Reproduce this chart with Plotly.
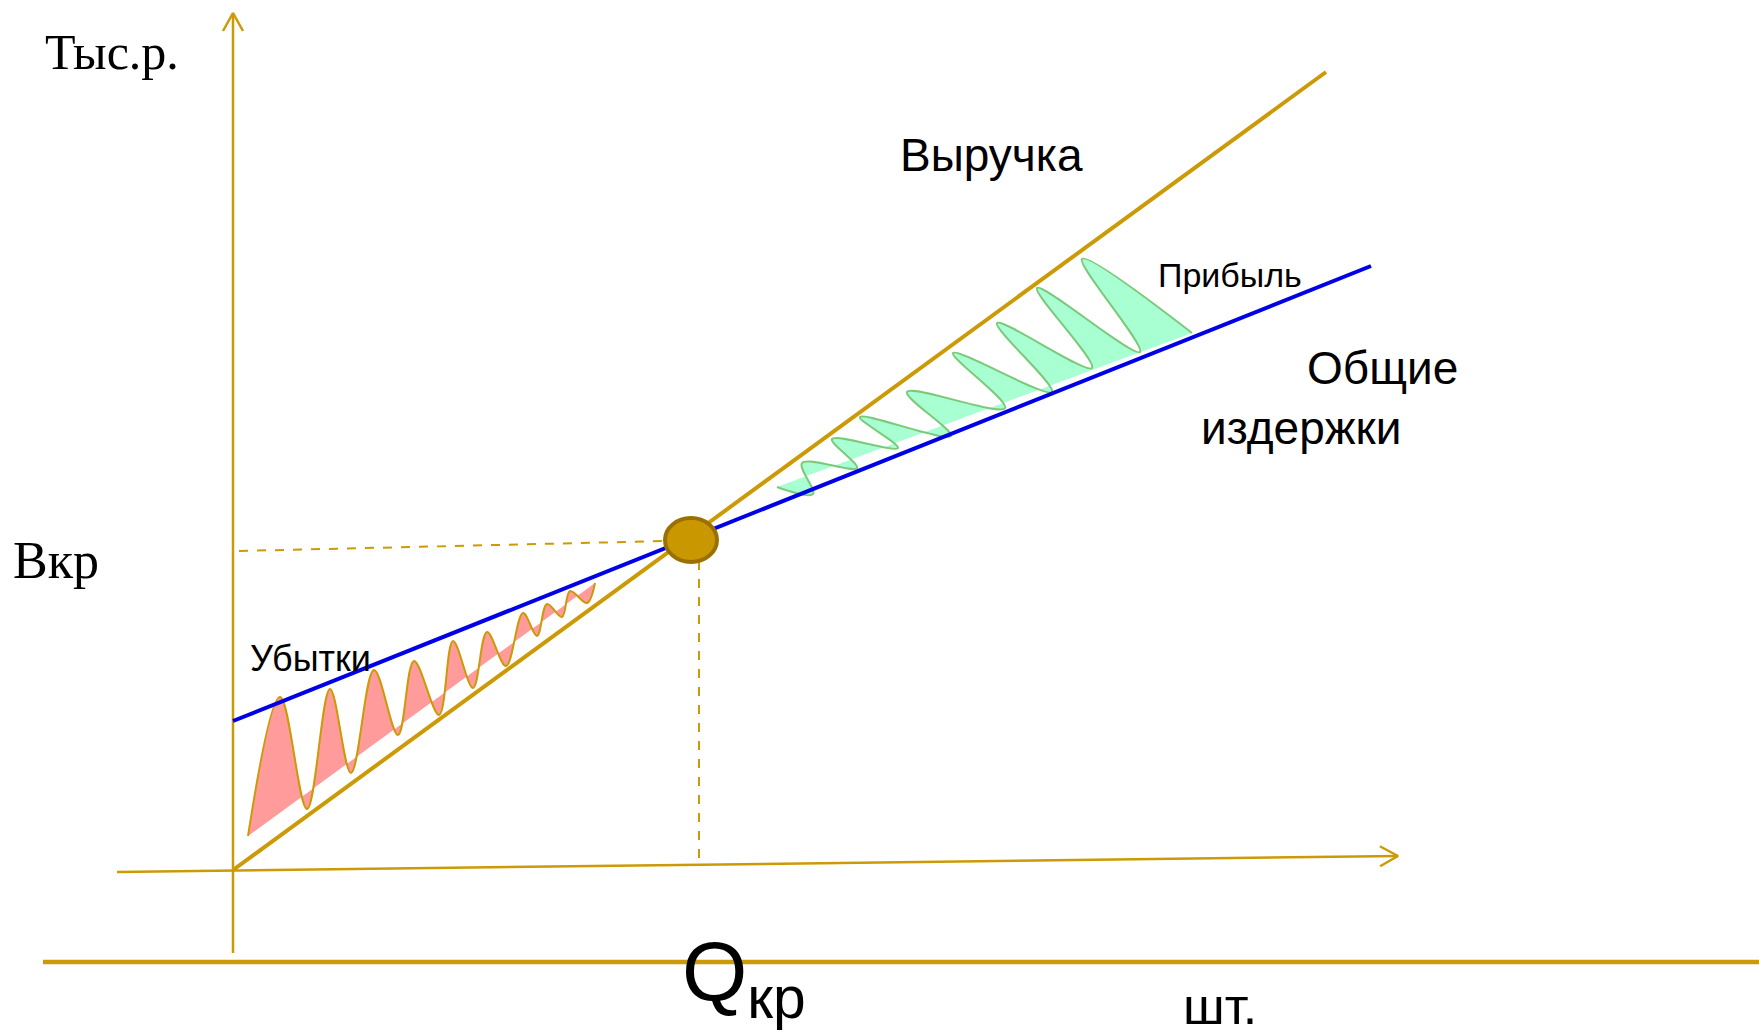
import plotly.graph_objects as go

# Break-even chart. Units: x - quantity, y - thousand rub. (diagram scale)
GOLD = '#CC9A06'
BLUE = '#0000E6'

# Revenue and total cost lines (start / end points)
revenue_x = [0, 1093]
revenue_y = [0, 798]
cost_x = [0, 1138]
cost_y = [149, 604]

# Break-even point
be_q = 458
be_b = 330

# Axes
y_axis_x = [0, 0]
y_axis_y = [-83, 857]
x_axis_x = [-116, 1165]
x_axis_y = [-2, 14]
base_x = [-190, 1530]
base_y = [-92, -92]

# Dashed guides to the break-even point
guide_h_x = [6, 434]
guide_h_y = [319, 329]
guide_v_x = [466, 466]
guide_v_y = [309, 3]

# Loss wave (between cost and revenue, left of break-even)
loss_x = [15, 47, 74, 97, 118, 141, 165, 181, 206, 220, 240, 254, 273, 290, 304, 314, 329, 337, 354, 362]
loss_y = [34, 173, 61, 181, 97, 200, 135, 209, 155, 229, 182, 238, 204, 257, 234, 266, 253, 279, 267, 287]

# Profit wave (right of break-even)
profit_x = [544, 580, 569, 624, 599, 665, 627, 718, 674, 772, 720, 819, 764, 859, 804, 907, 849, 959]
profit_y = [383, 376, 407, 402, 431, 422, 453, 434, 478, 462, 517, 478, 547, 502, 582, 518, 611, 537]

SANS = 'Liberation Sans, Arial, sans-serif'
SERIF = 'Liberation Serif, Times New Roman, serif'

# label text, x, y, font size, family
labels = [
    ('Тыс.р.', -121, 818, 50, SERIF),
    ('Вкр', -177, 310, 52, SERIF),
    ('Выручка', 758, 715, 46, SANS),
    ('Прибыль', 997, 595, 34, SANS),
    ('Общие', 1149, 502, 46, SANS),
    ('издержки', 1068, 442, 46, SANS),
    ('Убытки', 77, 212, 36, SANS),
    ('Q<sub>кр</sub>', 511, -107, 84, SANS),
    ('шт.', 987, -136, 52, SANS),
]


def add_line(fig, x, y, color, width, dash='solid'):
    fig.add_trace(go.Scatter(x=x, y=y, mode='lines', hoverinfo='skip',
                             line=dict(color=color, width=width, dash=dash)))


def add_chevron(fig, x, y, dx, dy, color):
    """open arrow head at the end of an axis"""
    x0, y0 = x[0], y[0]
    x1, y1 = x[1], y[1]
    length = ((x1 - x0) ** 2 + (y1 - y0) ** 2) ** 0.5
    ux, uy = (x1 - x0) / length, (y1 - y0) / length
    px, py = -uy, ux
    add_line(fig,
             [x1 - dx * ux + dy * px, x1, x1 - dx * ux - dy * px],
             [y1 - dx * uy + dy * py, y1, y1 - dx * uy - dy * py],
             color, 2.5)


fig = go.Figure()

# waves first, so the lines sit on top
fig.add_trace(go.Scatter(x=loss_x, y=loss_y, mode='lines', fill='toself',
                         fillcolor='#FF9B9B', line=dict(color=GOLD, width=2, shape='spline', smoothing=1.0),
                         hoverinfo='skip'))
fig.add_trace(go.Scatter(x=profit_x, y=profit_y, mode='lines', fill='toself',
                         fillcolor='#A8FFD2', line=dict(color='#7CC97C', width=2, shape='spline', smoothing=1.0),
                         hoverinfo='skip'))

add_line(fig, y_axis_x, y_axis_y, GOLD, 2.5)
add_chevron(fig, y_axis_x, y_axis_y, 18, 10, GOLD)
add_line(fig, x_axis_x, x_axis_y, GOLD, 2.5)
add_chevron(fig, x_axis_x, x_axis_y, 18, 10, GOLD)
add_line(fig, base_x, base_y, GOLD, 4.5)

add_line(fig, guide_h_x, guide_h_y, GOLD, 2, 'dash')
add_line(fig, guide_v_x, guide_v_y, GOLD, 2, 'dash')

add_line(fig, revenue_x, revenue_y, GOLD, 4)
add_line(fig, cost_x, cost_y, BLUE, 4)

# break-even marker (slightly wide ellipse)
fig.add_shape(type='circle', xref='x', yref='y',
              x0=be_q - 26, x1=be_q + 26, y0=be_b - 22, y1=be_b + 22,
              fillcolor='#C99700', line=dict(color='#9A7000', width=4))

for text, x, y, size, family in labels:
    fig.add_annotation(x=x, y=y, text=text, showarrow=False,
                       font=dict(size=size, family=family, color='black'),
                       xanchor='center', yanchor='middle')

fig.update_layout(
    width=1759, height=1034,
    margin=dict(l=0, r=0, t=0, b=0),
    paper_bgcolor='white', plot_bgcolor='white',
    showlegend=False,
    xaxis=dict(range=[-233, 1526], visible=False, fixedrange=True),
    yaxis=dict(range=[-164, 870], visible=False, fixedrange=True),
)

# page body has a default margin, drop it so the figure fills the window
fig.write_html("out.html", config={'displayModeBar': False},
               post_script="document.body.style.margin='0';document.body.style.overflow='hidden';")
